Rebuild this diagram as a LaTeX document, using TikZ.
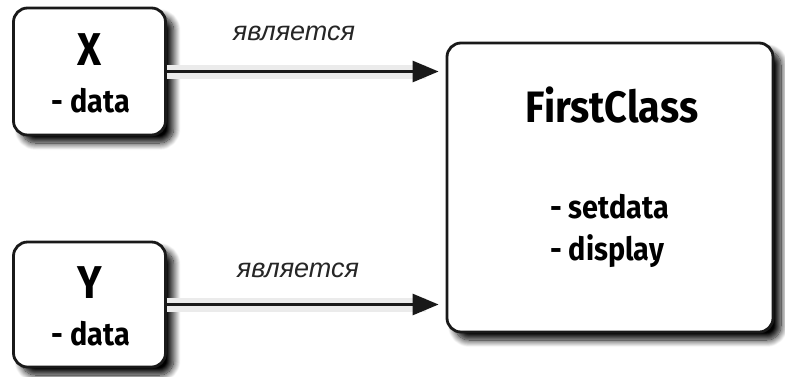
\documentclass[tikz,border=0pt]{standalone}
\usepackage{fontspec}
\setmainfont{Fira Sans}
\newfontfamily\boxfont{Fira Sans}[FakeStretch=0.9]
\newfontfamily\labfont{Liberation Sans}
\usetikzlibrary{arrows.meta,shadows.blur}
\begin{document}
\begin{tikzpicture}[x=1pt,y=-1pt,
  box/.style={draw=black!90, line width=2.8pt, rounded corners=14pt, fill=white, inner sep=0pt,
    blur shadow={shadow xshift=8pt, shadow yshift=-8pt, shadow blur steps=14, shadow opacity=100, shadow blur radius=7pt}},
  title/.style={font=\boxfont\bfseries\fontsize{46}{46}\selectfont, anchor=base, inner sep=0pt},
  member/.style={font=\boxfont\bfseries\fontsize{32}{38}\selectfont, inner sep=0pt},
  lab/.style={font=\labfont\itshape\fontsize{27}{27}\selectfont, text=black!85, inner sep=0pt},
  arr/.style={line width=2.8pt, draw=black!90, -{Triangle[length=26pt,width=21pt]}, shorten >=7pt,
    preaction={draw=black!8, line width=14pt, -, shorten >=20pt}}
]
\useasboundingbox (0,0) rectangle (785,376);
\node[box, minimum width=152pt, minimum height=127pt] (x) at (89.5,71.5) {};
\node[box, minimum width=152pt, minimum height=125pt] (y) at (89.5,304.5) {};
\node[box, minimum width=326pt, minimum height=289pt] (fc) at (610,187.5) {};
\node[title] (xt) at (89.5,65) {X};
\node[member, anchor=base] (xd) at (91,112) {- data};
\node[title] (yt) at (89.5,298) {Y};
\node[member, anchor=base] (yd) at (91,345) {- data};
\node[title, font=\boxfont\bfseries\fontsize{44}{44}\selectfont] (ft) at (612,122) {FirstClass};
\node[member, anchor=base west] (fs) at (550,218) {- setdata};
\node[member, anchor=base west] (fd) at (550,260) {- display};
\draw[arr] (x.east) -- (x.east -| fc.west);
\draw[arr] (y.east) -- (y.east -| fc.west);
\node[lab] (l1) at (294,33) {является};
\node[lab] (l2) at (298,270) {является};
\end{tikzpicture}
\end{document}
